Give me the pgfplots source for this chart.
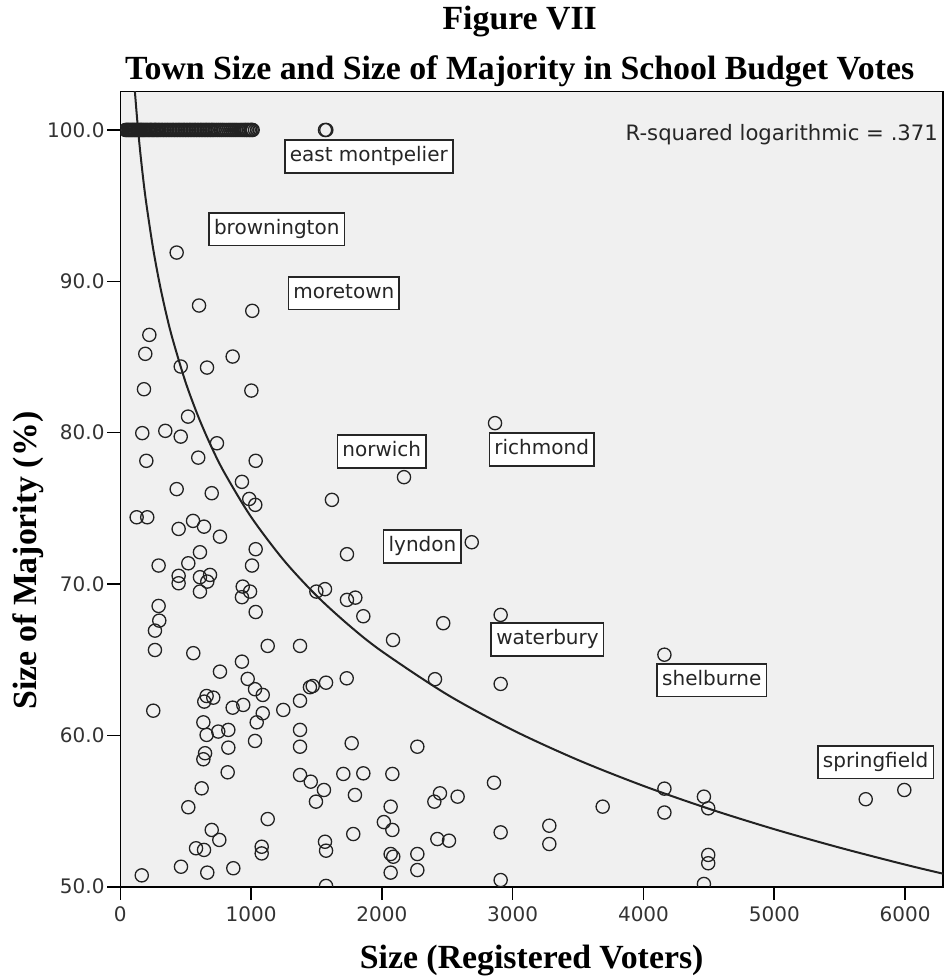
\documentclass[border=0pt]{standalone}
\usepackage{fontspec}
\usepackage{pgfplots}
\usepackage{pgfplotstable}
\pgfplotsset{compat=1.18}
\setmainfont{Liberation Serif}
\newfontfamily\sansfont{DejaVu Sans}
\definecolor{plotbg}{HTML}{F0F0F0}
\definecolor{inkgray}{HTML}{222222}

% Registered voters vs. size of majority (%), one row per town
\pgfplotstableread{
x y
40 100
48 100
56 100
64 100
72 100
80 100
88 100
96 100
104 100
112 100
120 100
128 100
136 100
145 100
154 100
163 100
172 100
181 100
190 100
200 100
210 100
220 100
230 100
240 100
250 100
260 100
270 100
280 100
290 100
300 100
312 100
324 100
336 100
348 100
360 100
372 100
384 100
396 100
408 100
420 100
432 100
444 100
456 100
468 100
480 100
492 100
504 100
516 100
528 100
540 100
552 100
564 100
576 100
588 100
600 100
612 100
624 100
636 100
648 100
660 100
672 100
684 100
696 100
708 100
720 100
735 100
750 100
765 100
780 100
795 100
810 100
825 100
840 100
855 100
870 100
885 100
900 100
915 100
930 100
945 100
958 100
970 100
982 100
994 100
1004 100
1012 100
1565 100
1575 100
431 91.9
602 88.4
1009 88.05
222 86.46
191 85.21
859 85.03
462 84.37
663 84.30
181 82.87
1002 82.78
518 81.06
168 79.97
344 80.12
462 79.74
739 79.30
199 78.14
596 78.35
1035 78.14
930 76.75
431 76.27
699 76.00
986 75.62
1032 75.23
1618 75.56
125 74.41
206 74.41
446 73.64
556 74.17
640 73.79
762 73.13
1035 72.30
293 71.22
520 71.37
609 72.10
1007 71.22
1733 71.97
446 70.54
446 70.05
609 70.45
686 70.60
665 70.16
609 69.50
936 69.83
992 69.50
930 69.13
1499 69.50
1565 69.66
1733 68.95
1797 69.10
1858 67.87
293 68.55
1035 68.15
298 67.58
265 66.92
265 65.64
2085 66.30
558 65.43
1127 65.91
1374 65.91
930 64.87
762 64.21
974 63.73
1731 63.77
1030 63.05
1089 62.67
660 62.60
711 62.49
642 62.23
1450 63.18
1471 63.26
1573 63.48
1374 62.29
1246 61.68
859 61.83
940 62.01
1089 61.46
1043 60.86
252 61.63
635 60.86
660 60.03
749 60.25
826 60.36
826 59.19
1030 59.63
1374 60.36
1374 59.25
1769 59.48
648 58.82
635 58.42
821 57.56
1374 57.38
1456 56.94
1557 56.39
1496 55.62
1705 57.45
1858 57.49
2080 57.45
1794 56.06
622 56.50
520 55.25
1127 54.47
2067 55.29
2015 54.27
2080 53.75
1781 53.48
699 53.75
757 53.09
579 52.54
640 52.43
1081 52.64
1081 52.20
1565 52.97
1573 52.38
2067 52.16
2087 51.98
2067 50.93
464 51.32
665 50.93
864 51.22
164 50.75
1573 50.05
2865 80.63
2169 77.06
2687 72.76
2469 67.41
2908 67.96
2406 63.71
2908 63.40
4160 65.33
2271 59.25
2857 56.87
2444 56.17
2401 55.62
2579 55.95
2424 53.15
2513 53.04
2908 53.59
3280 54.03
3280 52.82
3688 55.29
4160 56.48
4160 54.90
2271 52.16
2271 51.10
2908 50.44
4462 55.95
4495 55.18
4495 52.10
4495 51.55
4462 50.18
5699 55.78
5994 56.39
}\towns

% Logarithmic fit line (R-squared = .371), sampled along x
\pgfplotstableread{
x y
100 103.95
112 102.50
130 100.59
150 98.75
175 96.77
200 95.07
250 92.21
300 89.87
350 87.89
400 86.18
500 83.31
600 80.98
700 79.00
800 77.29
1000 74.43
1250 71.57
1500 69.23
1750 67.26
2000 65.55
2500 62.69
3000 60.35
3500 58.37
4000 56.66
4500 55.15
5000 53.80
5500 52.58
6000 51.46
6300 50.84
}\logfit

\tikzset{
  townlabel/.style={draw=black!85, line width=0.8pt, fill=white,
    font=\sansfont\fontsize{10}{12}\selectfont, text=black!85,
    inner xsep=2.5pt, inner ysep=3.2pt, text height=7.6pt, text depth=2.4pt}
}

\begin{document}
\begin{tikzpicture}
\path[use as bounding box] (-60.15pt,-45.65pt) rectangle (412.35pt,443.35pt);
\begin{axis}[
  at={(0pt,0pt)}, anchor=south west,
  scale only axis, width=411.35pt, height=397.5pt,
  xmin=0, xmax=6290, ymin=50, ymax=102.53,
  axis background/.style={fill=plotbg},
  axis line style={black, line width=0.8pt},
  xtick={0,1000,...,6000}, ytick={50,60,...,100},
  tick align=outside, tick pos=left,
  major tick length=6.5pt,
  major tick style={black, line width=0.8pt},
  /pgf/number format/assume math mode=true,
  /pgf/number format/1000 sep={},
  yticklabel style={/pgf/number format/fixed, /pgf/number format/fixed zerofill,
    /pgf/number format/precision=1, inner sep=0pt, xshift=-1.2pt},
  xticklabel style={inner sep=0pt, yshift=-3.5pt},
  tick label style={font=\sansfont\fontsize{10}{12}\selectfont, text=black!80},
  clip marker paths=true,
]
\addplot[inkgray, line width=1pt, smooth, no marks] table[x=x, y=y] {\logfit};
\addplot[only marks, mark=o, mark size=3.3pt,
  mark options={draw=inkgray, line width=0.65pt}] table[x=x, y=y] {\towns};

\node[townlabel] at (1900,98.25) {east montpelier};
\node[townlabel] at (1196,93.44) {brownington};
\node[townlabel] at (1709,89.22) {moretown};
\node[townlabel] at (1999,78.75) {norwich};
\node[townlabel] at (3222,78.90) {richmond};
\node[townlabel] at (2310,72.47) {lyndon};
\node[townlabel] at (3266,66.33) {waterbury};
\node[townlabel] at (4522,63.64) {shelburne};
\node[townlabel] at (5775,58.23) {springfield};
\end{axis}

\node[anchor=base east, font=\sansfont\fontsize{10.6}{12.5}\selectfont, text=black!85, inner sep=0pt]
  at (409pt,373pt) {R-squared logarithmic = .371};

\node[anchor=base, font=\bfseries\fontsize{16.9}{19}\selectfont, inner sep=0pt]
  at (199.7pt,428.35pt) {Figure VII};
\node[anchor=base, font=\bfseries\fontsize{16.9}{19}\selectfont, inner sep=0pt]
  at (199.7pt,403.35pt) {Town Size and Size of Majority in School Budget Votes};
\node[anchor=base, font=\bfseries\fontsize{16.9}{19}\selectfont, inner sep=0pt]
  at (205.65pt,-40.65pt) {Size (Registered Voters)};
\node[anchor=base, rotate=90, font=\bfseries\fontsize{16.9}{19}\selectfont, inner sep=0pt]
  at (-41.8pt,163.1pt) {Size of Majority (\%)};
\end{tikzpicture}
\end{document}
